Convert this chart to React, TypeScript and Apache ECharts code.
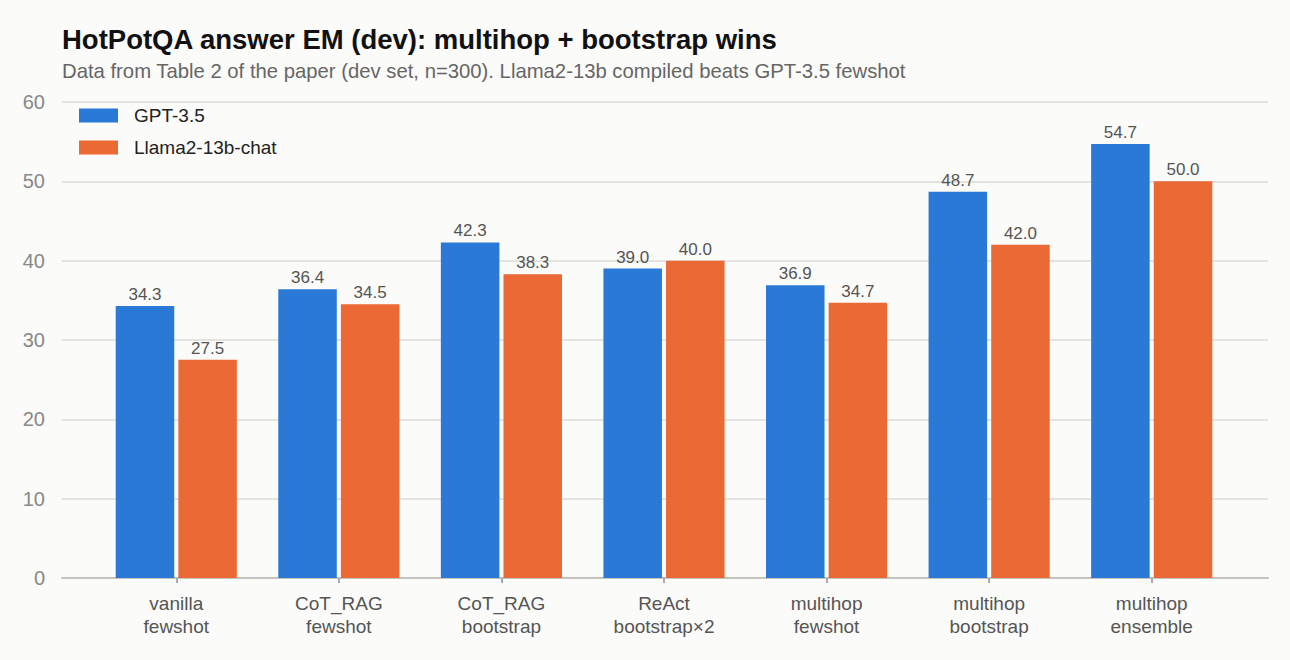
import React, { useEffect, useRef } from 'react';
import * as echarts from 'echarts';

const categories = [
  'vanilla\nfewshot',
  'CoT_RAG\nfewshot',
  'CoT_RAG\nbootstrap',
  'ReAct\nbootstrap×2',
  'multihop\nfewshot',
  'multihop\nbootstrap',
  'multihop\nensemble',
];
const gptValues = [34.3, 36.4, 42.3, 39.0, 36.9, 48.7, 54.7];
const llamaValues = [27.5, 34.5, 38.3, 40.0, 34.7, 42.0, 50.0];

const FONT = '"Liberation Sans", Arial, sans-serif';

export default function App() {
  const chartRef = useRef<HTMLDivElement>(null);

  useEffect(() => {
    document.body.style.margin = '0';
    if (!chartRef.current) return;
    const chart = echarts.init(chartRef.current, null, { renderer: 'svg' });

    const barLabel = {
      show: true,
      position: 'top' as const,
      distance: 3,
      fontSize: 17,
      color: '#555',
      fontFamily: FONT,
      formatter: (p: any) => Number(p.value).toFixed(1),
    };

    const option: echarts.EChartsOption = {
      animation: false,
      backgroundColor: '#fbfbf9',
      textStyle: { fontFamily: FONT },
      title: {
        text: 'HotPotQA answer EM (dev): multihop + bootstrap wins',
        subtext:
          'Data from Table 2 of the paper (dev set, n=300). Llama2-13b compiled beats GPT-3.5 fewshot',
        left: 62,
        top: 25,
        padding: 0,
        itemGap: 8,
        textStyle: { fontSize: 27.5, fontWeight: 'bold', color: '#111', fontFamily: FONT },
        subtextStyle: { fontSize: 20.3, color: '#666', fontFamily: FONT },
      },
      legend: {
        orient: 'vertical',
        left: 79,
        top: 106,
        padding: 0,
        itemWidth: 39,
        itemHeight: 14,
        itemGap: 13,
        icon: 'rect',
        textStyle: { fontSize: 19, color: '#222', fontFamily: FONT, padding: [0, 0, 0, 11] },
        data: ['GPT-3.5', 'Llama2-13b-chat'],
      },
      grid: [
        { left: 62, right: 22, top: 102, bottom: 82 },
        { left: 95, right: 57, top: 102, bottom: 82 },
      ],
      xAxis: [
        {
          type: 'value',
          gridIndex: 0,
          min: 0,
          max: 1,
          axisLine: { show: true, onZero: false, lineStyle: { color: '#c4c4bc', width: 2 } },
          axisTick: { show: false },
          axisLabel: { show: false },
          splitLine: { show: false },
        },
        {
          type: 'category',
          gridIndex: 1,
          data: categories,
          axisLine: { show: false },
          axisTick: { show: true, alignWithLabel: true, length: 5, lineStyle: { color: '#aaa', width: 2 } },
          axisLabel: {
            fontSize: 19,
            color: '#555',
            lineHeight: 23,
            margin: 14,
            fontFamily: FONT,
            interval: 0,
          },
        },
      ],
      yAxis: [
        {
          type: 'value',
          gridIndex: 0,
          min: 0,
          max: 60,
          interval: 10,
          axisLine: { show: false },
          axisTick: { show: false },
          axisLabel: { fontSize: 20, color: '#888', margin: 17, fontFamily: FONT },
          splitLine: { lineStyle: { color: '#e4e4de', width: 2 } },
        },
        {
          type: 'value',
          gridIndex: 1,
          min: 0,
          max: 60,
          interval: 10,
          show: false,
          splitLine: { show: false },
        },
      ],
      series: [
        {
          name: 'GPT-3.5',
          type: 'bar',
          xAxisIndex: 1,
          yAxisIndex: 1,
          data: gptValues,
          barWidth: '36%',
          barGap: '7%',
          itemStyle: { color: '#2b79d6' },
          label: barLabel,
        },
        {
          name: 'Llama2-13b-chat',
          type: 'bar',
          xAxisIndex: 1,
          yAxisIndex: 1,
          data: llamaValues,
          barWidth: '36%',
          itemStyle: { color: '#ea6935' },
          label: barLabel,
        },
      ],
    };
    chart.setOption(option);

    const resizeHandler = () => chart.resize();
    window.addEventListener('resize', resizeHandler);
    return () => {
      window.removeEventListener('resize', resizeHandler);
      chart.dispose();
    };
  }, []);

  return <div ref={chartRef} style={{ width: '1290px', height: '660px' }} />;
}
